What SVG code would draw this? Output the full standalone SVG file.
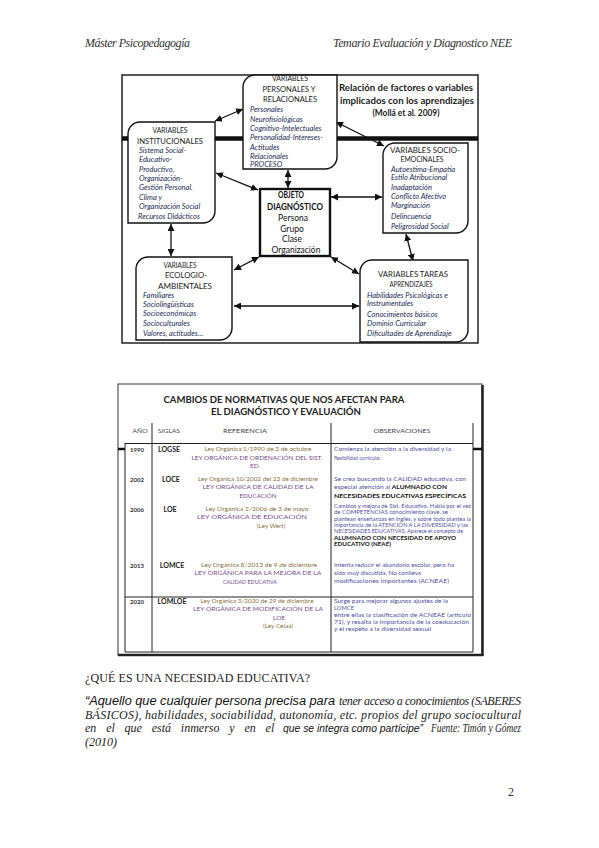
<svg xmlns="http://www.w3.org/2000/svg" width="599" height="848" viewBox="0 0 599 848">
<style>
.pg{font-family:"Liberation Serif","Times New Roman",serif;fill:#333}
.hdr{font-style:italic;font-size:12px}
.frame{fill:none;stroke:#222;stroke-width:1.5}
.box{fill:#fff;stroke:#111;stroke-width:1.4}
.obj{fill:#fff;stroke:#111;stroke-width:2.4}
.d{font-family:Lato,"Open Sans",sans-serif}
.bh{font-size:7.6px;fill:#222;text-anchor:middle}
.bi{font-size:7.5px;font-style:italic;fill:#1b2a55}
.ttl{font-size:9.5px;font-weight:700;fill:#222;text-anchor:middle}
.ob{font-size:8.5px;fill:#111;text-anchor:middle}
.conn line{stroke:#111;stroke-width:1.3;marker-start:url(#ah);marker-end:url(#ah)}
.tl{stroke:#222;stroke-width:1;fill:none}
.tt{font-family:Lato,"Open Sans",sans-serif;font-size:9.5px;font-weight:700;fill:#222;text-anchor:middle}
.ch{font-family:Lato,"Open Sans",sans-serif;font-size:6.5px;fill:#444;text-anchor:middle}
.yr{font-family:Lato,"Open Sans",sans-serif;font-size:6px;font-weight:700;fill:#333;text-anchor:middle}
.sg{font-family:Lato,"Open Sans",sans-serif;font-size:7px;font-weight:700;fill:#222;text-anchor:middle}
.r1{font-family:Lato,"Open Sans",sans-serif;font-size:6.4px;fill:#8a7040;text-anchor:middle}
.r2{font-family:Lato,"Open Sans",sans-serif;font-size:6.4px;fill:#7a4a8a;text-anchor:middle}
.o{font-family:Lato,"Open Sans",sans-serif;font-size:6.4px;fill:#5050a0}
.ok{font-weight:700;fill:#111}
.q{font-family:"Liberation Serif","Times New Roman",serif;font-style:italic;font-size:12px;fill:#222}
.qs{font-family:"Liberation Sans",Arial,sans-serif;font-style:italic;font-size:12px;fill:#111}
.qs2{font-family:"Liberation Sans",Arial,sans-serif;font-style:italic;font-size:10.6px;fill:#111}
</style>
<defs>
<marker id="ah" viewBox="0 0 10 10" refX="10" refY="5" markerWidth="7" markerHeight="7" markerUnits="userSpaceOnUse" orient="auto-start-reverse"><path d="M0,0 L10,5 L0,10 Z" fill="#111"/></marker>
</defs>
<rect width="599" height="848" fill="#fff"/>

<g id="page-header">
<text class="pg hdr" x="85" y="47" textLength="105">Máster Psicopedagogía</text>
<text class="pg hdr" x="333" y="47" textLength="179">Temario Evaluación y Diagnostico NEE</text>
</g>

<g id="diagram-frame">
<rect class="frame" x="122" y="75" width="356" height="268"/>
<line x1="122" y1="138.5" x2="478" y2="138.5" stroke="#111" stroke-width="4.5"/>
<text class="d ttl" x="406" y="91" textLength="134" lengthAdjust="spacingAndGlyphs">Relación de factores o variables</text>
<text class="d ttl" x="407" y="104" textLength="134" lengthAdjust="spacingAndGlyphs">implicados con los aprendizajes</text>
<text class="d ttl" x="406" y="116" textLength="67" lengthAdjust="spacingAndGlyphs">(Mollá et al. 2009)</text>
</g>

<g id="connectors" class="conn">
<line x1="215" y1="121" x2="243" y2="109"/>
<line x1="336" y1="122" x2="384" y2="146"/>
<line x1="288" y1="170" x2="288" y2="188"/>
<line x1="216" y1="173" x2="258" y2="190"/>
<line x1="331" y1="197" x2="382" y2="197"/>
<line x1="171" y1="224" x2="171" y2="256"/>
<line x1="259" y1="257" x2="234" y2="270"/>
<line x1="331" y1="257" x2="359" y2="274"/>
<line x1="406" y1="234" x2="413" y2="261"/>
<line x1="234" y1="306" x2="359" y2="306"/>
</g>

<g id="node-personales">
<path class="box" d="M255,75 H337 V157 A12,12 0 0 1 325,169 H243 V87 A12,12 0 0 1 255,75 Z"/>
<text class="d bh" x="290" y="80.5" textLength="36" lengthAdjust="spacingAndGlyphs">VARIABLES</text>
<text class="d bh" x="289" y="91.5" textLength="53" lengthAdjust="spacingAndGlyphs">PERSONALES Y</text>
<text class="d bh" x="290" y="101.5" textLength="54" lengthAdjust="spacingAndGlyphs">RELACIONALES</text>
<text class="d bi" x="250" y="111.5">Personales</text>
<text class="d bi" x="250" y="121.5">Neurofisiológicas</text>
<text class="d bi" x="250" y="130.5">Cognitivo-Intelectuales</text>
<text class="d bi" x="250" y="139.5">Personalidad-Intereses-</text>
<text class="d bi" x="250" y="149.5">Actitudes</text>
<text class="d bi" x="250" y="158.5">Relacionales</text>
<text class="d bi" x="250" y="167">PROCESO</text>
</g>

<g id="node-institucionales">
<path class="box" d="M140,122 H215 V211 A12,12 0 0 1 203,223 H128 V134 A12,12 0 0 1 140,122 Z"/>
<text class="d bh" x="170" y="132.5" textLength="35" lengthAdjust="spacingAndGlyphs">VARIABLES</text>
<text class="d bh" x="170" y="143.5" textLength="66" lengthAdjust="spacingAndGlyphs">INSTITUCIONALES</text>
<text class="d bi" x="139" y="152.5">Sistema Social-</text>
<text class="d bi" x="139" y="162">Educativo-</text>
<text class="d bi" x="139" y="171.5">Productivo,</text>
<text class="d bi" x="139" y="180.5">Organización-</text>
<text class="d bi" x="139" y="190">Gestión Personal.</text>
<text class="d bi" x="139" y="199.5">Clima y</text>
<text class="d bi" x="139" y="208.5">Organización Social</text>
<text class="d bi" x="138" y="219">Recursos Didácticos</text>
</g>

<g id="node-socio">
<path class="box" d="M395,143 H468 V221 A12,12 0 0 1 456,233 H383 V155 A12,12 0 0 1 395,143 Z"/>
<text class="d bh" x="425" y="152.5" textLength="70" lengthAdjust="spacingAndGlyphs">VARIABLES SOCIO-</text>
<text class="d bh" x="422" y="161.5" textLength="43" lengthAdjust="spacingAndGlyphs">EMOCINALES</text>
<text class="d bi" x="391" y="171.5">Autoestima-Empatía</text>
<text class="d bi" x="391" y="180">Estilo Atribucional</text>
<text class="d bi" x="391" y="190">Inadaptación</text>
<text class="d bi" x="391" y="199">Conflicto Afectivo</text>
<text class="d bi" x="391" y="208">Marginación</text>
<text class="d bi" x="391" y="219">Delincuencia</text>
<text class="d bi" x="391" y="228.5">Peligrosidad Social</text>
</g>

<g id="node-objeto">
<rect class="obj" x="260" y="189" width="70" height="67"/>
<text class="d ob" x="291" y="198" font-weight="700" textLength="26" lengthAdjust="spacingAndGlyphs">OBJETO</text>
<text class="d ob" x="295" y="210" font-weight="700" textLength="56" lengthAdjust="spacingAndGlyphs">DIAGNÓSTICO</text>
<text class="d ob" x="293" y="221">Persona</text>
<text class="d ob" x="292" y="231.5">Grupo</text>
<text class="d ob" x="292" y="242">Clase</text>
<text class="d ob" x="296" y="252.5">Organización</text>
</g>

<g id="node-ecologico">
<path class="box" d="M148,257 H232 V328 A12,12 0 0 1 220,340 H136 V269 A12,12 0 0 1 148,257 Z"/>
<text class="d bh" x="180" y="267.5" textLength="33" lengthAdjust="spacingAndGlyphs">VARIABLES</text>
<text class="d bh" x="186" y="277.5" textLength="42" lengthAdjust="spacingAndGlyphs">ECOLOGIO-</text>
<text class="d bh" x="185" y="288.5" textLength="54" lengthAdjust="spacingAndGlyphs">AMBIENTALES</text>
<text class="d bi" x="143" y="297.5">Familiares</text>
<text class="d bi" x="143" y="306.5">Sociolingüísticas</text>
<text class="d bi" x="143" y="315.5">Socioeconómicas</text>
<text class="d bi" x="143" y="325.5">Socioculturales</text>
<text class="d bi" x="143" y="336">Valores, actitudes…</text>
</g>

<g id="node-tareas">
<path class="box" d="M372,260 H468 V330 A12,12 0 0 1 456,342 H360 V272 A12,12 0 0 1 372,260 Z"/>
<text class="d bh" x="413" y="276.5" textLength="70" lengthAdjust="spacingAndGlyphs">VARIABLES TAREAS</text>
<text class="d bh" x="411" y="286.5" textLength="43" lengthAdjust="spacingAndGlyphs">APRENDIZAJES</text>
<text class="d bi" x="367" y="297.5">Habilidades Psicológicas e</text>
<text class="d bi" x="367" y="305.5">Instrumentales</text>
<text class="d bi" x="367" y="316.5">Conocimientos básicos</text>
<text class="d bi" x="367" y="325.5">Dominio Curricular</text>
<text class="d bi" x="367" y="335.5">Dificultades de Aprendizaje</text>
</g>

<g id="table">
<rect x="118" y="384" width="364" height="271" fill="none" stroke="#555" stroke-width="1.2"/>
<line x1="482.5" y1="385" x2="482.5" y2="656" stroke="#222" stroke-width="2.5"/>
<line x1="118" y1="655" x2="483" y2="655" stroke="#222" stroke-width="2.5"/>
<line x1="118" y1="449" x2="125" y2="449" stroke="#111" stroke-width="2.5"/>
<line x1="473" y1="449" x2="482" y2="449" stroke="#111" stroke-width="2.5"/>
<line class="tl" x1="125" y1="443" x2="125" y2="652"/>
<line class="tl" x1="152" y1="423" x2="152" y2="652"/>
<line class="tl" x1="331" y1="423" x2="331" y2="652"/>
<line class="tl" x1="473" y1="423" x2="473" y2="652"/>
<line class="tl" x1="125" y1="443.5" x2="473" y2="443.5"/>
<line class="tl" x1="125" y1="597" x2="473" y2="597"/>
<line class="tl" x1="125" y1="652" x2="473" y2="652"/>
<text class="tt" x="284" y="403" textLength="241" lengthAdjust="spacingAndGlyphs">CAMBIOS DE NORMATIVAS QUE NOS AFECTAN PARA</text>
<text class="tt" x="286" y="415" textLength="150" lengthAdjust="spacingAndGlyphs">EL DIAGNÓSTICO Y EVALUACIÓN</text>
<text class="ch" x="140" y="433" textLength="15" lengthAdjust="spacingAndGlyphs">AÑO</text>
<text class="ch" x="169" y="433" textLength="22" lengthAdjust="spacingAndGlyphs">SIGLAS</text>
<text class="ch" x="245" y="433" textLength="44" lengthAdjust="spacingAndGlyphs">REFERENCIA</text>
<text class="ch" x="402" y="433" textLength="57" lengthAdjust="spacingAndGlyphs">OBSERVACIONES</text>

<text class="yr" x="137" y="451.5">1990</text>
<text class="sg" x="169" y="451.5">LOGSE</text>
<text class="r1" x="258" y="451" textLength="107" lengthAdjust="spacingAndGlyphs">Ley Orgánica 1/1990 de 3 de octubre</text>
<text class="r2" x="257" y="460" textLength="131" lengthAdjust="spacingAndGlyphs">LEY ORGÁNICA DE ORDENACIÓN DEL SIST.</text>
<text class="r2" x="255" y="467.5">ED.</text>
<text class="o" x="334" y="451" textLength="117" lengthAdjust="spacingAndGlyphs">Comienza la atención a la diversidad y la</text>
<text class="o" x="334" y="460" textLength="47" lengthAdjust="spacingAndGlyphs">flexibilidad curricular.</text>

<text class="yr" x="137" y="481.5">2002</text>
<text class="sg" x="171" y="481.5">LOCE</text>
<text class="r1" x="258" y="481" textLength="120" lengthAdjust="spacingAndGlyphs">Ley Orgánica 10/2002 del 23 de diciembre</text>
<text class="r2" x="258" y="489" textLength="111" lengthAdjust="spacingAndGlyphs">LEY ORGÁNICA DE CALIDAD DE LA</text>
<text class="r2" x="258" y="497.5" textLength="37" lengthAdjust="spacingAndGlyphs">EDUCACIÓN</text>
<text class="o" x="334" y="481" textLength="132" lengthAdjust="spacingAndGlyphs">Se crea buscando la CALIDAD educativa, con</text>
<text class="o" x="334" y="489" textLength="113" lengthAdjust="spacingAndGlyphs">especial atención al <tspan class="ok">ALUMNADO CON</tspan></text>
<text class="o ok" x="334" y="497.5" textLength="132" lengthAdjust="spacingAndGlyphs">NECESIDADES EDUCATIVAS ESPECÍFICAS</text>

<text class="yr" x="137" y="511.5">2006</text>
<text class="sg" x="170" y="511.5">LOE</text>
<text class="r1" x="257" y="511" textLength="103" lengthAdjust="spacingAndGlyphs">Ley Orgánica 2/2006 de 3 de mayo</text>
<text class="r2" x="252" y="519" textLength="110" lengthAdjust="spacingAndGlyphs">LEY ORGÁNICA DE EDUCACIÓN</text>
<text class="r1" x="271" y="527.5">(Ley Wert)</text>
<text class="o" x="334" y="508" textLength="137" lengthAdjust="spacingAndGlyphs">Cambios y mejora de Sist. Educativo. Habla por el vez</text>
<text class="o" x="334" y="514" textLength="114" lengthAdjust="spacingAndGlyphs">de COMPETENCIAS conocimiento clave, se</text>
<text class="o" x="334" y="520.5" textLength="137" lengthAdjust="spacingAndGlyphs">plantean enseñanzas en inglés, y sobre todo plantea la</text>
<text class="o" x="334" y="526.5" textLength="134" lengthAdjust="spacingAndGlyphs">importancia de la ATENCIÓN A LA DIVERSIDAD y las</text>
<text class="o" x="334" y="532.5" textLength="129" lengthAdjust="spacingAndGlyphs">NECESIDADES EDUCATIVAS. Aparece el concepto de</text>
<text class="o ok" x="334" y="539.5" textLength="122" lengthAdjust="spacingAndGlyphs">ALUMNADO CON NECESIDAD DE APOYO</text>
<text class="o ok" x="334" y="545.5" textLength="57" lengthAdjust="spacingAndGlyphs">EDUCATIVO (NEAE)</text>

<text class="yr" x="137" y="567.5">2013</text>
<text class="sg" x="172" y="567.5">LOMCE</text>
<text class="r1" x="259" y="567" textLength="116" lengthAdjust="spacingAndGlyphs">Ley Orgánica 8/2013 de 9 de diciembre</text>
<text class="r2" x="258" y="575" textLength="127" lengthAdjust="spacingAndGlyphs">LEY ORGÁNICA PARA LA MEJORA DE LA</text>
<text class="r2" x="250" y="583.5" textLength="54" lengthAdjust="spacingAndGlyphs">CALIDAD EDUCATIVA</text>
<text class="o" x="334" y="567" textLength="120" lengthAdjust="spacingAndGlyphs">Intenta reducir el abandono escolar, pero ha</text>
<text class="o" x="334" y="574.5" textLength="87" lengthAdjust="spacingAndGlyphs">sido muy discutida. No conlleva</text>
<text class="o" x="334" y="582.5" textLength="115" lengthAdjust="spacingAndGlyphs">modificaciones importantes (ACNEAE)</text>

<text class="yr" x="137" y="603.5">2020</text>
<text class="sg" x="172" y="603.5">LOMLOE</text>
<text class="r1" x="257" y="603" textLength="113" lengthAdjust="spacingAndGlyphs">Ley Orgánica 3/2020 de 29 de diciembre</text>
<text class="r2" x="258" y="611" textLength="130" lengthAdjust="spacingAndGlyphs">LEY ORGÁNICA DE MODIFICACIÓN DE LA</text>
<text class="r2" x="279" y="619.5">LOE</text>
<text class="r1" x="278" y="628">(Ley Celaá)</text>
<text class="o" x="334" y="603" textLength="114" lengthAdjust="spacingAndGlyphs">Surge para mejorar algunos ajustes de la</text>
<text class="o" x="334" y="609.5" textLength="20" lengthAdjust="spacingAndGlyphs">LOMCE</text>
<text class="o" x="334" y="617" textLength="137" lengthAdjust="spacingAndGlyphs">entre ellas la clasificación de ACNEAE (artículo</text>
<text class="o" x="334" y="624" textLength="135" lengthAdjust="spacingAndGlyphs">71), y resalta la importancia de la coeducación</text>
<text class="o" x="334" y="630.5" textLength="97" lengthAdjust="spacingAndGlyphs">y el respeto a la diversidad sexual</text>
</g>

<g id="text-body">
<text x="85" y="682" font-family="Liberation Serif, Times New Roman, serif" font-size="12" fill="#222" textLength="225">¿QUÉ ES UNA NECESIDAD EDUCATIVA?</text>
<text class="qs" x="85" y="705" textLength="250" lengthAdjust="spacingAndGlyphs">“Aquello que cualquier persona precisa para</text>
<text class="q" x="339" y="705" textLength="182">tener acceso a conocimientos (SABERES</text>
<text class="q" x="85" y="718.5" textLength="436">BÁSICOS), habilidades, sociabilidad, autonomía, etc. propios del grupo sociocultural</text>
<text class="q" x="85" y="732" word-spacing="6.8">en el que está inmerso y en el</text>
<text class="qs2" x="283" y="732" textLength="140" lengthAdjust="spacingAndGlyphs">que se integra como partícipe”</text>
<text class="q" x="431" y="732" textLength="90" lengthAdjust="spacingAndGlyphs">Fuente: Timón y Gómez</text>
<text class="q" x="85" y="745.5">(2010)</text>
</g>

<g id="page-number">
<text class="pg" x="508" y="796" font-size="12">2</text>
</g>
</svg>
